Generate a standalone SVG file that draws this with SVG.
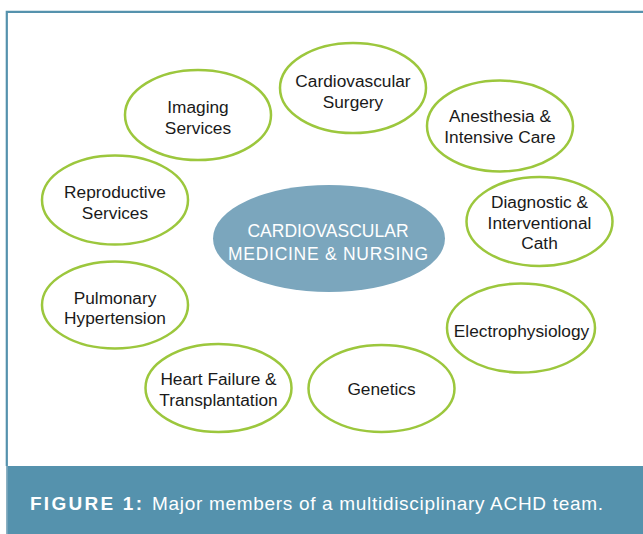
<svg xmlns="http://www.w3.org/2000/svg" width="643" height="534" viewBox="0 0 643 534">
  <style>
    .node { fill: #ffffff; stroke: #9cc73d; stroke-width: 2.5; }
    .label { font-family: "Liberation Sans", Arial, sans-serif; font-size: 17.3px; fill: #1a1a1a; text-anchor: middle; }
    .hub { fill: #7ba6bd; }
    .hub-label { font-family: "Liberation Sans", Arial, sans-serif; font-size: 17.5px; fill: #ffffff; text-anchor: middle; }
    .caption { font-family: "Liberation Sans", Arial, sans-serif; font-size: 19px; fill: #ffffff; }
  </style>

  <!-- background and frame -->
  <rect x="0" y="0" width="643" height="534" fill="#ffffff"/>
  <path d="M 6.8 466 L 6.8 11.8 L 645 11.8" fill="none" stroke="#5592ad" stroke-width="2.2"/>
  <rect x="6" y="466" width="640" height="68" fill="#5592ad"/>
  <line x1="6.8" y1="466" x2="6.8" y2="534" stroke="#8fb3c4" stroke-width="1.5"/>

  <!-- caption -->
  <g id="caption">
    <text class="caption" x="30" y="510" font-size="20px" font-weight="bold" textLength="112" lengthAdjust="spacing">FIGURE 1:</text>
    <text class="caption" x="152" y="510" textLength="451" lengthAdjust="spacing">Major members of a multidisciplinary ACHD team.</text>
  </g>

  <g id="connectors"></g>

  <!-- central hub -->
  <g id="hub">
    <ellipse class="hub" cx="329" cy="238.5" rx="116" ry="53.5"/>
    <text class="hub-label" x="328" y="237">CARDIOVASCULAR</text>
    <text class="hub-label" x="328" y="259.5" textLength="200" lengthAdjust="spacing">MEDICINE &amp; NURSING</text>
  </g>

  <!-- surrounding team members -->
  <g id="cardiovascular-surgery">
    <ellipse class="node" cx="353" cy="88" rx="73" ry="45"/>
    <text class="label" x="353" y="86.5">Cardiovascular</text>
    <text class="label" x="353" y="108">Surgery</text>
  </g>

  <g id="imaging-services">
    <ellipse class="node" cx="198" cy="115" rx="73" ry="45"/>
    <text class="label" x="198" y="112.5">Imaging</text>
    <text class="label" x="198" y="133.5">Services</text>
  </g>

  <g id="anesthesia">
    <ellipse class="node" cx="500" cy="126" rx="73" ry="45.5"/>
    <text class="label" x="500" y="122">Anesthesia &amp;</text>
    <text class="label" x="500" y="143">Intensive Care</text>
  </g>

  <g id="reproductive-services">
    <ellipse class="node" cx="115" cy="200" rx="73" ry="44.5"/>
    <text class="label" x="115" y="198">Reproductive</text>
    <text class="label" x="115" y="218.5">Services</text>
  </g>

  <g id="diagnostic-cath">
    <ellipse class="node" cx="539.5" cy="221.5" rx="73" ry="44.5"/>
    <text class="label" x="539.5" y="208">Diagnostic &amp;</text>
    <text class="label" x="539.5" y="228.5">Interventional</text>
    <text class="label" x="539.5" y="249">Cath</text>
  </g>

  <g id="pulmonary-hypertension">
    <ellipse class="node" cx="115" cy="305" rx="73" ry="43.5"/>
    <text class="label" x="115" y="303.5">Pulmonary</text>
    <text class="label" x="115" y="323.5">Hypertension</text>
  </g>

  <g id="electrophysiology">
    <ellipse class="node" cx="521" cy="328" rx="74" ry="44.5"/>
    <text class="label" x="521.5" y="336.5">Electrophysiology</text>
  </g>

  <g id="heart-failure">
    <ellipse class="node" cx="218.5" cy="388" rx="73" ry="44"/>
    <text class="label" x="218.5" y="385">Heart Failure &amp;</text>
    <text class="label" x="218.5" y="406">Transplantation</text>
  </g>

  <g id="genetics">
    <ellipse class="node" cx="381.5" cy="388.5" rx="73" ry="43.5"/>
    <text class="label" x="381.5" y="395">Genetics</text>
  </g>
</svg>
